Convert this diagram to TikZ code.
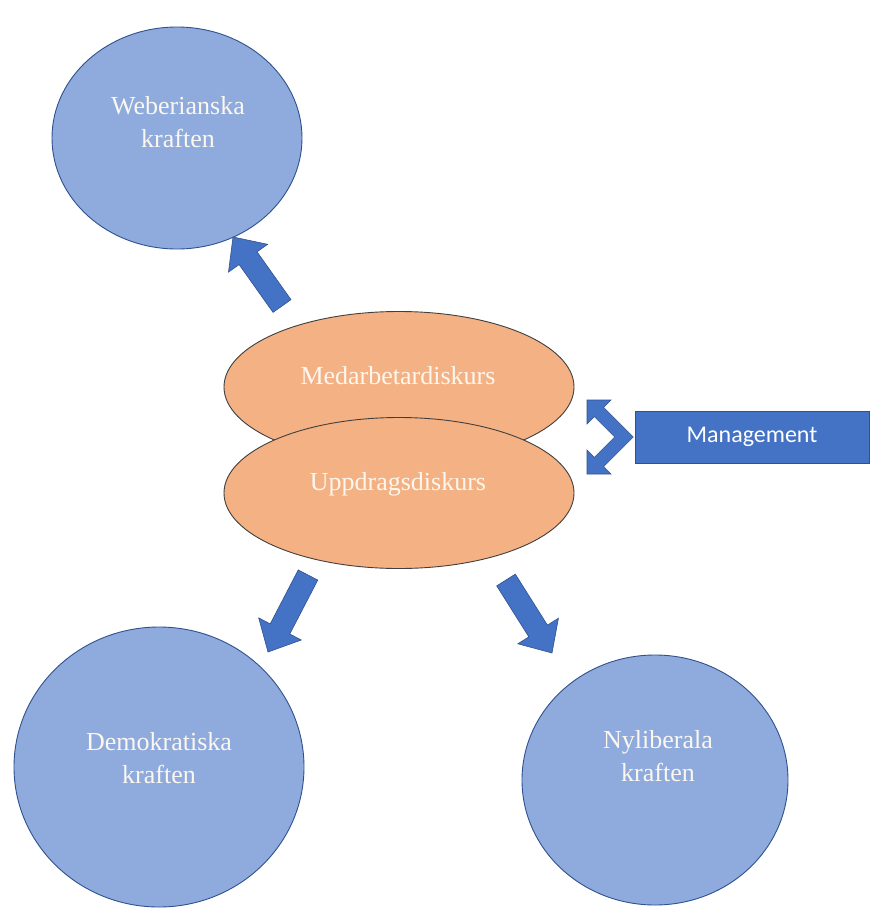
\documentclass[tikz,border=0pt]{standalone}
\usepackage{fontspec}
\setmainfont{Liberation Serif}
\newfontfamily\calibfont{Carlito}
\usetikzlibrary{calc,shapes.geometric}
\definecolor{circfill}{HTML}{8FAADC}
\definecolor{circline}{HTML}{2F528F}
\definecolor{ellfill}{HTML}{F4B183}
\definecolor{ellline}{HTML}{404040}
\definecolor{arrfill}{HTML}{4472C4}
\definecolor{arrline}{HTML}{2F528F}
\definecolor{txtcol}{HTML}{FBF7EF}
\newcommand\blockarrow[2]{%
  \coordinate (#1-b) at ($(#2)!26pt!(#1)$);
  \filldraw[blockarr] ($(#1)!11pt!90:(#2)$) -- ($(#1-b)!11pt!90:(#2)$) -- ($(#1-b)!24pt!90:(#2)$) -- (#2)
     -- ($(#1-b)!24pt!-90:(#2)$) -- ($(#1-b)!11pt!-90:(#2)$) -- ($(#1)!11pt!-90:(#2)$) -- cycle;}
\begin{document}
\begin{tikzpicture}[x=1pt,y=-1pt,
  force/.style 2 args={ellipse, draw=circline, line width=0.9pt, fill=circfill, minimum width=#1, minimum height=#2, inner sep=0pt},
  forcetext/.style={align=center, text=txtcol, inner sep=0pt, font=\fontsize{26}{33}\selectfont},
  disc/.style={ellipse, draw=ellline, line width=0.9pt, fill=ellfill, minimum width=350pt, minimum height=151pt, inner sep=0pt},
  disctext/.style={text=txtcol, inner sep=0pt, font=\fontsize{26}{33}\selectfont},
  blockarr/.style={fill=arrfill, draw=arrline, line width=0.6pt, line join=miter},
  mgmt/.style={rectangle, fill=arrfill, draw=arrline, line width=0.8pt, minimum width=234pt, minimum height=52pt, inner sep=0pt, text=white, font=\calibfont\fontsize{24}{28}\selectfont}]
\useasboundingbox (0,0) rectangle (870,908);
\fill[white] (0,0) rectangle (870,908);

% circles (slightly oval, as in the reference)
\node[force={250pt}{222pt}] (weber) at (177,138) {};
\node[forcetext] at (178,122) {Weberianska\\kraften};
\node[force={290pt}{280pt}] (demo) at (159,767) {};
\node[forcetext] at (159,758) {Demokratiska\\kraften};
\node[force={266pt}{250pt}] (nylib) at (655,780) {};
\node[forcetext] at (658,756) {Nyliberala\\kraften};

% ellipses
\node[disc] (med) at (399,387) {};
\node[disctext] at (398,376) {Medarbetardiskurs};
\node[disc] (upp) at (399,493) {};
\node[disctext] at (398,484) {Uppdragsdiskurs};

% management
\node[mgmt] (man) at (752,437) {Management};

% bent double arrow between Management and the discourses
\filldraw[blockarr] (587,400) -- (611,400) -- (603.6,407.4) -- (633.2,437) -- (603.6,466.6) -- (611,474)
  -- (587,474) -- (587,450) -- (594.4,457.4) -- (614.8,437) -- (594.4,416.6) -- (587,424) -- cycle;

% block arrows
\coordinate (a1t) at (282,306); \coordinate (a1h) at (233,237);
\coordinate (a2t) at (308,575); \coordinate (a2h) at (268,652);
\coordinate (a3t) at (506,580); \coordinate (a3h) at (552,653);
\blockarrow{a1t}{a1h}
\blockarrow{a2t}{a2h}
\blockarrow{a3t}{a3h}
\end{tikzpicture}
\end{document}
